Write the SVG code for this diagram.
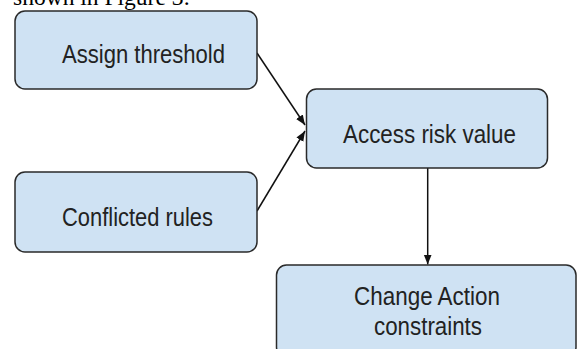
<svg xmlns="http://www.w3.org/2000/svg" width="577" height="349" viewBox="0 0 577 349">
<style>
.box{fill:#cfe2f3;stroke:#2a2a2a;stroke-width:1.5}
.lbl{font-family:"Liberation Sans",Arial,sans-serif;font-size:25px;fill:#222;text-anchor:middle}
.edge{stroke:#111;stroke-width:1.5;fill:none}
.cap{font-family:"Liberation Serif","Times New Roman",serif;font-size:23px;fill:#000}
</style>
<defs>
<marker id="ah" viewBox="0 0 10 10" refX="10" refY="5" markerWidth="10" markerHeight="10" markerUnits="userSpaceOnUse" orient="auto">
<path d="M0,1 L10,5 L0,9 Z" fill="#111"/>
</marker>
</defs>
<rect width="577" height="349" fill="#fff"/>
<text class="cap" x="13" y="4.5" textLength="177" lengthAdjust="spacingAndGlyphs">shown in Figure 3:</text>
<g id="connectors">
<line class="edge" x1="257" y1="53" x2="305" y2="125" marker-end="url(#ah)"/>
<line class="edge" x1="257" y1="211" x2="305" y2="131" marker-end="url(#ah)"/>
<line class="edge" x1="427.7" y1="168" x2="427.7" y2="264.5" marker-end="url(#ah)"/>
</g>
<g id="assign">
<rect class="box" x="15" y="11" width="242" height="78" rx="10"/>
<text class="lbl" x="143.5" y="63" textLength="163" lengthAdjust="spacingAndGlyphs">Assign threshold</text>
</g>
<g id="conflicted">
<rect class="box" x="15" y="172" width="242" height="80" rx="10"/>
<text class="lbl" x="137.5" y="226" textLength="151" lengthAdjust="spacingAndGlyphs">Conflicted rules</text>
</g>
<g id="access">
<rect class="box" x="306.5" y="89" width="241" height="79" rx="10"/>
<text class="lbl" x="429.5" y="143" textLength="173" lengthAdjust="spacingAndGlyphs">Access risk value</text>
</g>
<g id="change">
<rect class="box" x="276.5" y="265" width="299.5" height="92" rx="10"/>
<text class="lbl" x="427" y="305" textLength="146" lengthAdjust="spacingAndGlyphs">Change Action</text>
<text class="lbl" x="428" y="335" textLength="108" lengthAdjust="spacingAndGlyphs">constraints</text>
</g>
</svg>
